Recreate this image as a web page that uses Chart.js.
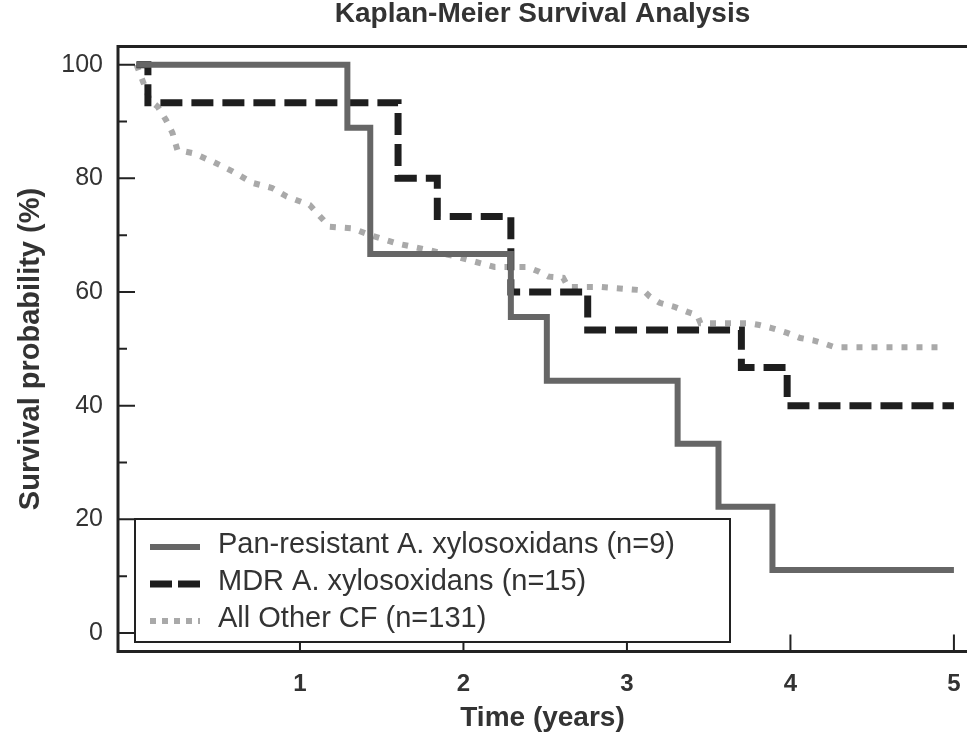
<!DOCTYPE html>
<html>
<head>
<meta charset="utf-8">
<script src="https://cdn.jsdelivr.net/npm/chart.js@4.4.1/dist/chart.umd.min.js"></script>
<style>
  html, body { margin: 0; padding: 0; background: #fff; }
  canvas { display: block; }
</style>
</head>
<body>
<canvas id="km" width="967" height="737"></canvas>
<script>
// Kaplan-Meier curves: time in years, survival in %
const panTime = [0, 1.29, 1.43, 2.29, 2.51, 3.31, 3.56, 3.89, 5.0];
const panSurv = [100, 88.9, 66.7, 55.6, 44.4, 33.3, 22.2, 11.1, 11.1];

const mdrTime = [0, 0.07, 1.60, 1.84, 2.29, 2.76, 3.70, 3.98, 5.0];
const mdrSurv = [100, 93.3, 80, 73.3, 60, 53.3, 46.7, 40, 40];

const otherTime = [0, 0.06, 0.08, 0.13, 0.18, 0.22, 0.25, 0.35, 0.47, 0.59, 0.71, 0.83, 0.92, 1.06, 1.18, 1.32, 1.43, 1.6, 1.8, 1.96,
  2.19, 2.39, 2.46, 2.52, 2.61, 2.64, 2.84, 3.10, 3.14, 3.20, 3.29, 3.37, 3.43, 3.45, 3.75, 3.81, 3.88, 3.98, 4.06, 4.14, 4.20, 4.27, 4.95];
const otherSurv = [100, 95.5, 93.8, 92.6, 90.3, 88, 85, 84.4, 82.9, 81.2, 79.2, 78.3, 76.8, 75.3, 71.5, 71.2, 70, 68.5, 67.3, 66.2,
  64.4, 64.4, 63.6, 62.7, 62.5, 60.9, 60.9, 60.3, 59.2, 58.1, 57.4, 56.5, 55.9, 54.5, 54.5, 54.2, 53.7, 52.8, 51.9, 51.5, 51, 50.3, 50.3];

const seriesNames = ['Pan-resistant A. xylosoxidans (n=9)', 'MDR A. xylosoxidans (n=15)', 'All Other CF (n=131)'];
const xTicks = [1, 2, 3, 4, 5];
const yTicks = [0, 20, 40, 60, 80, 100];
const yMinorTicks = [10, 30, 50, 70, 90];

function toPoints(t, v) {
    return t.map((x, i) => ({ x: x, y: v[i] }));
}

// frame, inward ticks and boxed legend like the original figure
const framePlugin = {
    id: 'frame',
    afterDatasetsDraw(chart) {
        const { ctx, chartArea: a, scales: { x, y } } = chart;
        ctx.save();
        ctx.strokeStyle = '#222';
        ctx.lineCap = 'butt';
        ctx.setLineDash([]);

        ctx.lineWidth = 2;
        ctx.beginPath();
        yTicks.forEach(v => {
            const p = y.getPixelForValue(v);
            ctx.moveTo(a.left, p); ctx.lineTo(a.left + 17, p);
        });
        yMinorTicks.forEach(v => {
            const p = y.getPixelForValue(v);
            ctx.moveTo(a.left, p); ctx.lineTo(a.left + 9, p);
        });
        xTicks.forEach(t => {
            const p = x.getPixelForValue(t);
            ctx.moveTo(p, a.bottom); ctx.lineTo(p, a.bottom - 17);
        });
        ctx.stroke();

        // legend box
        const bx = 135, by = 519, bw = 595, bh = 123;
        ctx.fillStyle = '#fff';
        ctx.fillRect(bx, by, bw, bh);
        ctx.lineWidth = 2;
        ctx.strokeRect(bx, by, bw, bh);

        const rows = [545, 582, 619];
        chart.data.datasets.forEach((ds, i) => {
            ctx.save();
            ctx.strokeStyle = ds.borderColor;
            ctx.lineWidth = ds.borderWidth;
            ctx.setLineDash(ds.legendDash || []);
            ctx.beginPath();
            ctx.moveTo(150, rows[i] + 2);
            ctx.lineTo(200, rows[i] + 2);
            ctx.stroke();
            ctx.restore();
            ctx.fillStyle = '#333';
            ctx.font = '29px "Liberation Sans", Arial, sans-serif';
            ctx.textBaseline = 'middle';
            ctx.textAlign = 'left';
            ctx.fillText(ds.label, 218, rows[i]);
        });

        // axes frame (no right side)
        ctx.lineWidth = 3;
        ctx.beginPath();
        ctx.moveTo(a.right, a.top);
        ctx.lineTo(a.left, a.top);
        ctx.lineTo(a.left, a.bottom);
        ctx.lineTo(a.right, a.bottom);
        ctx.stroke();
        ctx.restore();
    }
};

const ctx = document.getElementById('km').getContext('2d');
const kmChart = new Chart(ctx, {
    type: 'line',
    data: {
        datasets: [{
            label: seriesNames[0],
            data: toPoints(panTime, panSurv),
            stepped: 'before',
            borderColor: '#666666',
            borderWidth: 6,
            pointRadius: 0,
            fill: false
        }, {
            label: seriesNames[1],
            data: toPoints(mdrTime, mdrSurv),
            stepped: 'before',
            borderColor: '#1e1e1e',
            borderWidth: 7,
            borderDash: [22, 9],
            legendDash: [22, 6],
            pointRadius: 0,
            fill: false
        }, {
            label: seriesNames[2],
            data: toPoints(otherTime, otherSurv),
            borderColor: '#a9a9a9',
            borderWidth: 6,
            borderDash: [6, 9],
            legendDash: [6, 6],
            pointRadius: 0,
            tension: 0,
            fill: false
        }]
    },
    options: {
        responsive: false,
        animation: false,
        devicePixelRatio: 1,
        layout: { padding: 0 },
        plugins: {
            legend: { display: false },
            tooltip: { enabled: false },
            title: {
                display: true,
                fullSize: false,
                text: 'Kaplan-Meier Survival Analysis',
                color: '#333',
                font: { family: '"Liberation Sans", Arial, sans-serif', size: 28, weight: 'bold', lineHeight: 1 },
                padding: { top: 0, bottom: 18.5 }
            }
        },
        scales: {
            x: {
                type: 'linear',
                min: -0.113,
                max: 5.08,
                grid: { display: false, drawTicks: false },
                border: { display: false },
                afterBuildTicks: s => { s.ticks = xTicks.map(v => ({ value: v })); },
                afterFit: s => { s.height = 85.5; s.paddingLeft = 0; s.paddingRight = 0; },
                ticks: {
                    padding: 18,
                    color: '#333',
                    font: { family: '"Liberation Sans", Arial, sans-serif', size: 24, weight: 'bold' }
                },
                title: {
                    display: true,
                    text: 'Time (years)',
                    color: '#333',
                    font: { family: '"Liberation Sans", Arial, sans-serif', size: 28, weight: 'bold', lineHeight: 1 },
                    padding: { top: 0, bottom: 5 }
                }
            },
            y: {
                min: -3.25,
                max: 103.2,
                grid: { display: false, drawTicks: false },
                border: { display: false },
                afterBuildTicks: s => { s.ticks = yTicks.map(v => ({ value: v })); },
                afterFit: s => { s.width = 118; s.paddingTop = 0; s.paddingBottom = 0; },
                ticks: {
                    padding: 15,
                    color: '#333',
                    font: { family: '"Liberation Sans", Arial, sans-serif', size: 25 }
                },
                title: {
                    display: true,
                    text: 'Survival probability (%)',
                    color: '#333',
                    font: { family: '"Liberation Sans", Arial, sans-serif', size: 29, weight: 'bold', lineHeight: 1 },
                    padding: { top: 16.5, bottom: 0 }
                }
            }
        }
    },
    plugins: [framePlugin]
});
</script>
</body>
</html>
